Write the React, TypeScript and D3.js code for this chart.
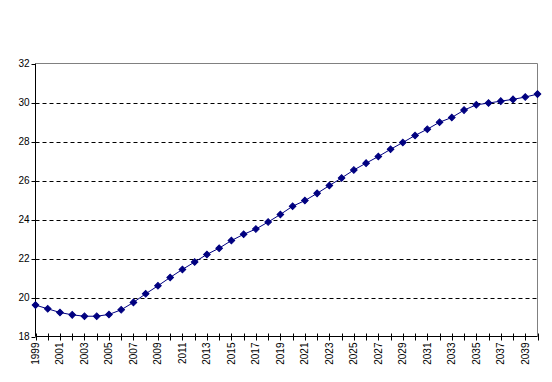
import React from "react";
import * as d3 from "d3";

const years: number[] = d3.range(1999, 2041);
const values: number[] = [
  19.61, 19.42, 19.23, 19.11, 19.04, 19.04, 19.13, 19.37, 19.75, 20.19,
  20.6, 21.03, 21.44, 21.82, 22.21, 22.53, 22.92, 23.24, 23.51, 23.87,
  24.26, 24.68, 24.97, 25.34, 25.74, 26.13, 26.54, 26.89, 27.23, 27.6,
  27.95, 28.31, 28.63, 28.99, 29.23, 29.61, 29.88, 29.97, 30.07, 30.16,
  30.28, 30.43,
];
const yTicks: number[] = [18, 20, 22, 24, 26, 28, 30, 32];
const gridTicks: number[] = [20, 22, 24, 26, 28, 30];
const labelYears: number[] = years.filter((y) => (y - 1999) % 2 === 0);

const W = 552;
const H = 382;
const left = 35.5;
const right = 537.5;
const top = 63.5;
const bottom = 336.5;

export default function App() {
  const x = d3.scaleLinear().domain([1999, 2040]).range([left, right]);
  const y = d3.scaleLinear().domain([18, 32]).range([bottom, top]);
  const line = d3
    .line<number>()
    .x((_, i) => x(years[i]))
    .y((d) => y(d));
  const marker = d3.symbol(d3.symbolSquare, 22)() as string;
  const font = "Arial, 'Liberation Sans', sans-serif";

  return (
    <svg
      width={W}
      height={H}
      style={{ position: "absolute", left: 0, top: 0, background: "#fff" }}
    >
      <rect x={0} y={0} width={W} height={H} fill="#fff" />
      {/* grid */}
      {gridTicks.map((t) => (
        <line
          key={"g" + t}
          x1={left}
          x2={right}
          y1={Math.round(y(t)) + 0.5}
          y2={Math.round(y(t)) + 0.5}
          stroke="#000"
          strokeWidth={1}
          strokeDasharray="4,3"
        />
      ))}
      {/* plot border top/right */}
      <line x1={left} x2={right} y1={top} y2={top} stroke="#808080" />
      <line x1={right} x2={right} y1={top} y2={bottom} stroke="#808080" />
      {/* y axis */}
      <line x1={left} x2={left} y1={top} y2={bottom} stroke="#000" />
      {yTicks.map((t) => (
        <g key={"y" + t}>
          <line
            x1={left - 4}
            x2={left}
            y1={Math.round(y(t)) + 0.5}
            y2={Math.round(y(t)) + 0.5}
            stroke="#000"
          />
          <text
            x={left - 6}
            y={y(t)}
            dy="0.35em"
            textAnchor="end"
            fontFamily={font}
            fontSize={10}
            fill="#000"
          >
            {t}
          </text>
        </g>
      ))}
      {/* x axis */}
      <line x1={left} x2={right} y1={bottom} y2={bottom} stroke="#000" />
      {years.map((yr) => (
        <line
          key={"xt" + yr}
          x1={Math.round(x(yr)) + 0.5}
          x2={Math.round(x(yr)) + 0.5}
          y1={bottom - 3}
          y2={bottom + 4}
          stroke="#000"
        />
      ))}
      {labelYears.map((yr) => (
        <text
          key={"xl" + yr}
          transform={`translate(${x(yr)},${bottom + 6}) rotate(-90)`}
          dy="0.35em"
          textAnchor="end"
          fontFamily={font}
          fontSize={10}
          fill="#000"
        >
          {yr}
        </text>
      ))}
      {/* series */}
      <path d={line(values) || ""} fill="none" stroke="#000080" strokeWidth={1} />
      {values.map((v, i) => (
        <path
          key={"m" + i}
          d={marker}
          transform={`translate(${x(years[i])},${y(v)}) rotate(45)`}
          fill="#000080"
          stroke="#000080"
          strokeWidth={1}
        />
      ))}
    </svg>
  );
}
